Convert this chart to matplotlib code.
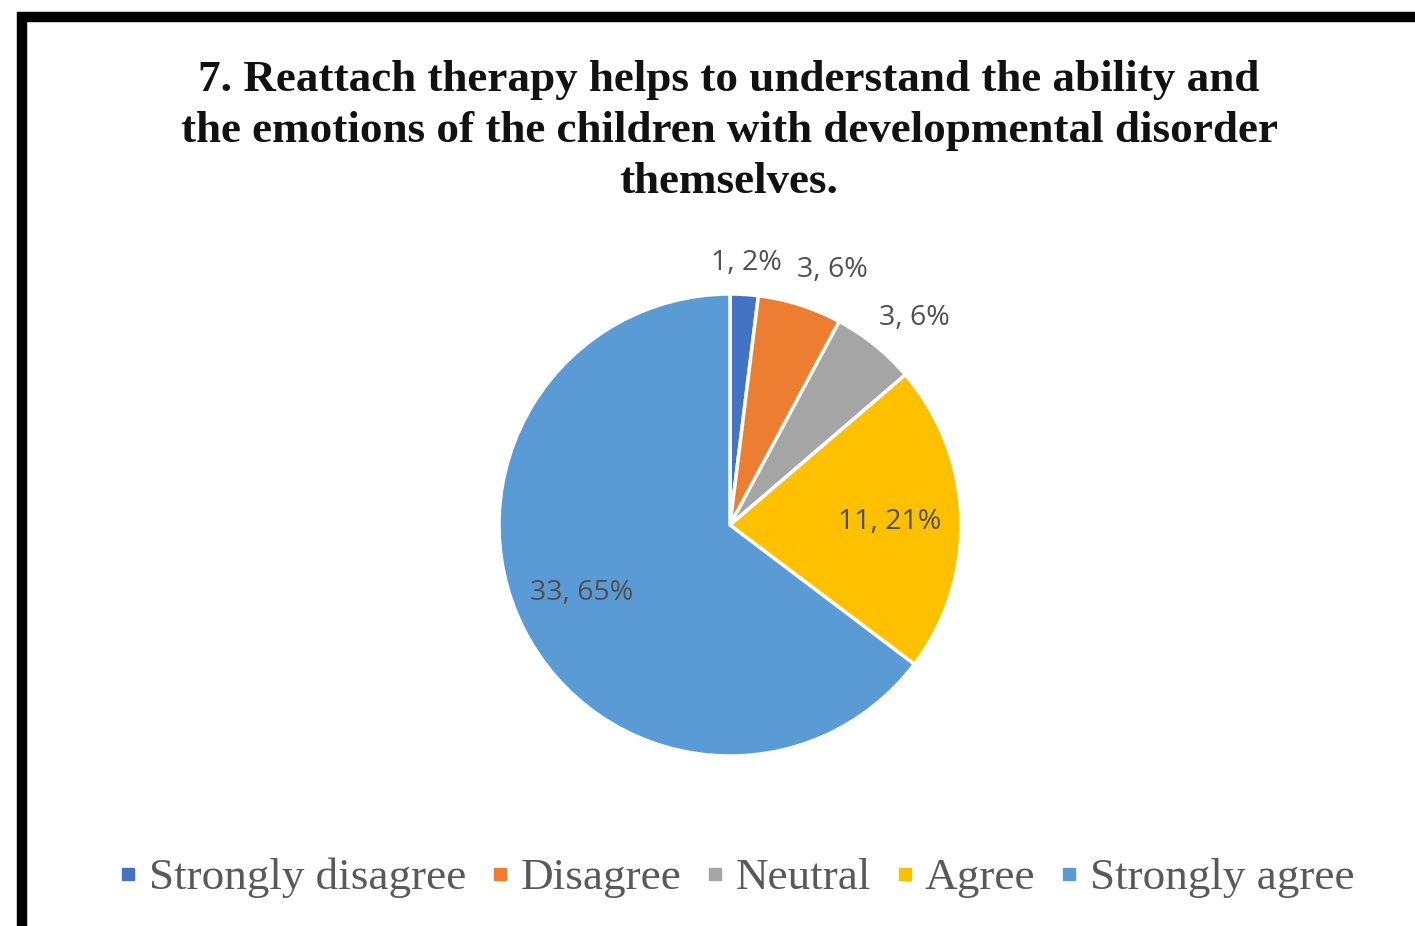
import matplotlib
matplotlib.use("Agg")
import matplotlib.pyplot as plt
from matplotlib.lines import Line2D
from matplotlib.patches import Rectangle
import numpy as np

categories = ["Strongly disagree", "Disagree", "Neutral", "Agree", "Strongly agree"]
counts = [1, 3, 3, 11, 33]
percents = [2, 6, 6, 21, 65]
colors = ["#4472C4", "#ED7D31", "#A5A5A5", "#FFC000", "#5B9BD5"]
title = ("7. Reattach therapy helps to understand the ability and\n"
         "the emotions of the children with developmental disorder\n"
         "themselves.")

W, H = 1415, 926
fig = plt.figure(figsize=(W / 100, H / 100), dpi=100)
fig.patch.set_facecolor("white")

# outer border (cut off at right and bottom)
fig.patches.append(Rectangle((22 / W, -0.1), 1.2, (1 - 17 / H) + 0.1,
                             transform=fig.transFigure, fill=False,
                             edgecolor="black", linewidth=7.5, zorder=10))

fig.text(729 / W, 1 - 131 / H, title, ha="center", va="center",
         family="Liberation Serif", fontweight="bold", fontsize=32.5,
         linespacing=1.37, color="#111111")

cx, cy, R = 730, 525, 231
ax = fig.add_axes([(cx - R) / W, (H - cy - R) / H, 2 * R / W, 2 * R / H])
wedges, _ = ax.pie(counts, colors=colors, startangle=90, counterclock=False,
                   radius=1, wedgeprops=dict(edgecolor="white", linewidth=2.5))
ax.set_xlim(-1, 1)
ax.set_ylim(-1, 1)
ax.set_aspect("equal")
ax.axis("off")

label_r = [1.136, 1.19, 1.2, 0.693, 0.705]
label_dang = [0, -4.2, -3, -0.7, -1.8]
for w, c, p, r, da in zip(wedges, counts, percents, label_r, label_dang):
    ang = np.deg2rad((w.theta1 + w.theta2) / 2 + da)
    ax.text(r * np.cos(ang), r * np.sin(ang), f"{c}, {p}%", ha="center",
            va="center", fontsize=20.5, family="Open Sans", color="#505050",
            clip_on=False)

handles = [Line2D([], [], marker="s", linestyle="none", markersize=9,
                  markerfacecolor=col, markeredgecolor=col) for col in colors]
fig.legend(handles, categories, loc="center", ncol=5,
           bbox_to_anchor=(738 / W, 1 - 878 / H), frameon=False,
           prop=dict(family="Liberation Serif", size=32.5),
           labelcolor="#595959", handlelength=0.3, handletextpad=0.3,
           columnspacing=0.6, borderaxespad=0)

fig.savefig("out.png", dpi=100, facecolor="white")
